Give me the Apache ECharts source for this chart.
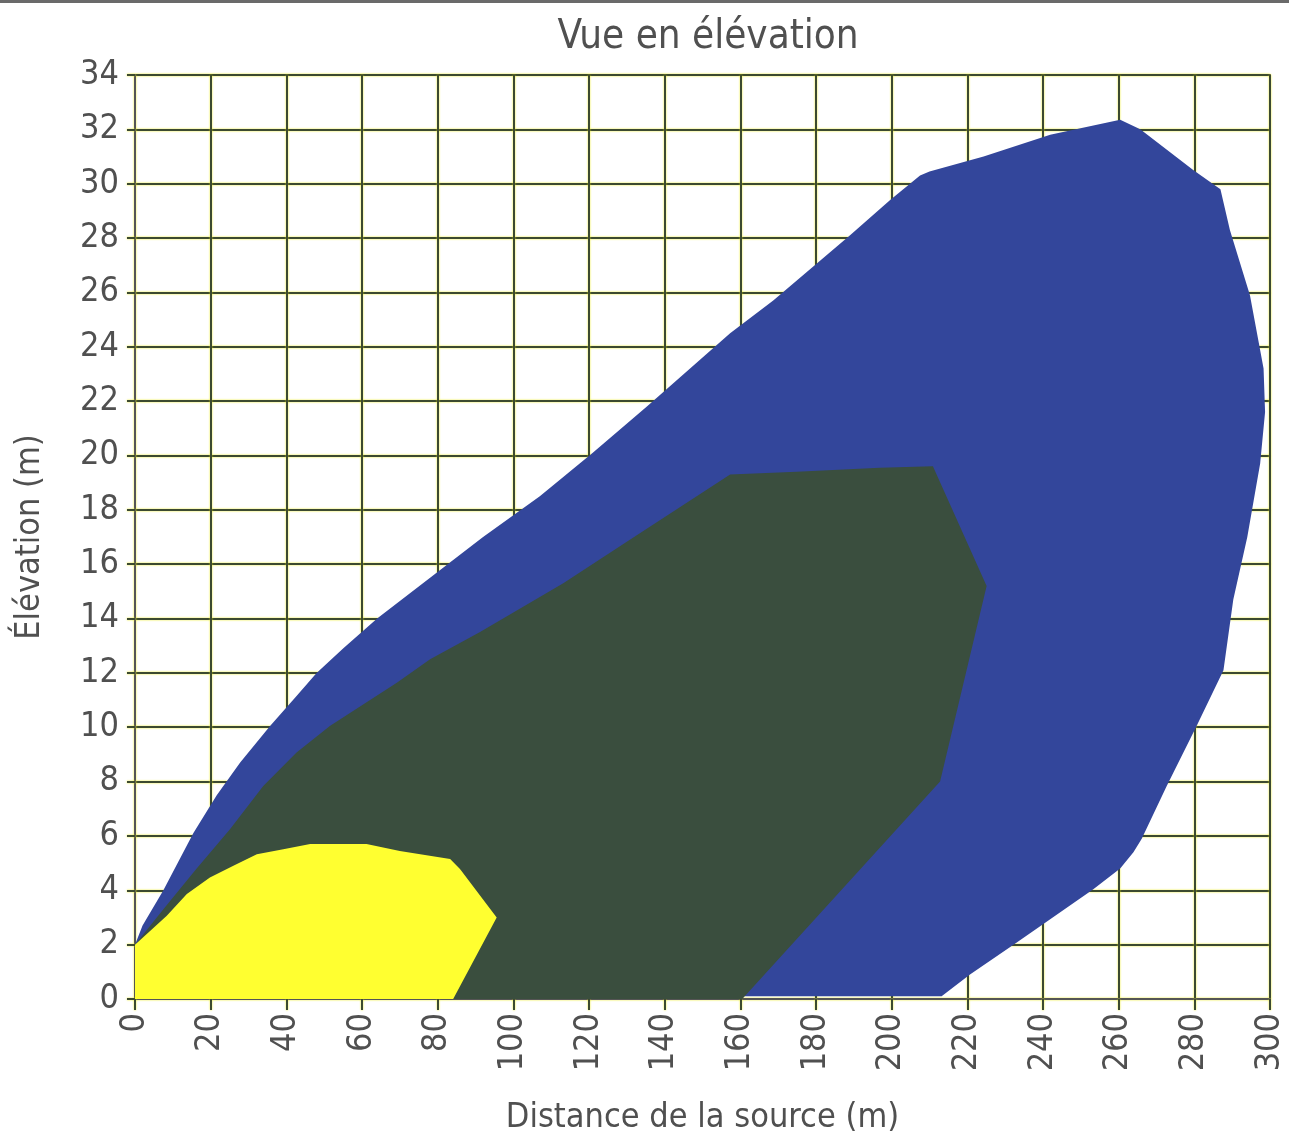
<!DOCTYPE html>
<html>
<head>
<meta charset="utf-8">
<script src="https://cdn.jsdelivr.net/npm/echarts@6/dist/echarts.min.js"></script>
<style>
html,body{margin:0;padding:0;background:#fff;}
#main{width:1289px;height:1140px;}
</style>
</head>
<body>
<div id="main"></div>
<script>
// zones du nuage, contours (distance m, elevation m)
var zoneBleue = [
	[0,2],[2,2.7],[7.5,4.0],[15.4,6.1],[21.6,7.5],[27.8,8.7],[35.7,10.05],[42.7,11.15],
	[48,12.0],[55,12.9],[64,14.0],[78,15.5],[92,17.0],[107,18.5],[121,20.1],[135.3,21.8],[157.3,24.5],[168.7,25.7],
	[189,28.1],[199.6,29.4],[207.5,30.3],[210,30.45],[224.3,31.0],[241.9,31.8],[260.4,32.35],
	[265.7,32.0],[279.7,30.5],[286.9,29.8],[289.4,28.3],[294.7,25.9],[298.3,23.2],[298.7,21.6],
	[297.4,19.7],[294,17],[290.3,14.7],[287.7,12.1],[280.6,10.05],[272.7,7.84],[266.1,5.9],
	[263.9,5.4],[260.4,4.8],[253.3,4.04],[240.1,2.76],[232.2,2.0],[220.7,0.9],[213.2,0.1],
	[160,0.1],[0,0]
];
var zoneVerte = [
	[0,2],[7.5,3.3],[16.3,4.8],[25.1,6.25],[33.9,7.84],[42.7,9.07],[51.5,10.05],[69.2,11.64],
	[78,12.5],[91.2,13.5],[113.2,15.3],[130.8,16.9],[157.3,19.3],[174.9,19.4],[196.9,19.55],
	[210.9,19.6],[225.1,15.2],[212.8,8.0],[160.5,0],[0,0]
];
var zoneJaune = [
	[0,2],[8.4,3.06],[13.7,3.86],[19.8,4.47],[26,4.9],[32.2,5.33],[39.2,5.51],[46.3,5.7],
	[61.2,5.7],[70,5.45],[83.3,5.15],[85.9,4.78],[95.6,3.0],[84.1,0],[0,0]
];
var xTicks = [0,20,40,60,80,100,120,140,160,180,200,220,240,260,280,300];
var yTicks = [0,2,4,6,8,10,12,14,16,18,20,22,24,26,28,30,32,34];

var police = "'Liberation Sans Narrow','DejaVu Sans Condensed','Liberation Sans',sans-serif";
var grille = {color:'#3c4a30', width:2, shadowColor:'rgba(235,235,0,0.95)', shadowBlur:2};

function polygone(points, couleur){
	return {
		type:'custom',
		data:points,
		encode:{x:0, y:1},
		clip:true,
		silent:true,
		renderItem:function(params, api){
			if(params.dataIndex !== 0) return;
			var pts = [];
			for(var i=0;i<points.length;i++){
				pts.push(api.coord(points[i]));
			}
			return {type:'polygon', shape:{points:pts}, style:{fill:couleur}};
		}
	};
}

var myChart = echarts.init(document.getElementById("main"));
var option = {
	animation:false,
	backgroundColor:'#fff',
	title:{
		text:'Vue en élévation',
		left:703, top:13, textAlign:'center',
		textStyle:{fontFamily:police, fontSize:40, fontWeight:'normal', color:'#505050'}
	},
	graphic:[{type:'rect', left:0, top:0, shape:{width:1289, height:3}, style:{fill:'#6a6a6a'}}],
	grid:{left:135, right:19, top:75, bottom:140, show:true, borderColor:'#555', borderWidth:2, backgroundColor:'#fff'},
	xAxis:{
		type:'value', min:xTicks[0], max:xTicks[xTicks.length-1], interval:20,
		name:'Distance de la source (m)', nameLocation:'middle', nameGap:102,
		nameTextStyle:{fontFamily:police, fontSize:34, color:'#505050'},
		axisLine:{show:true, lineStyle:{color:'#555', width:2}},
		axisTick:{show:true, length:11, lineStyle:grille},
		axisLabel:{rotate:90, margin:14, fontFamily:police, fontSize:34, color:'#505050'},
		splitLine:{show:true, lineStyle:grille}
	},
	yAxis:{
		type:'value', min:yTicks[0], max:yTicks[yTicks.length-1], interval:2,
		name:'Élévation (m)', nameLocation:'middle', nameGap:88,
		nameTextStyle:{fontFamily:police, fontSize:34, color:'#505050'},
		axisLine:{show:true, lineStyle:{color:'#555', width:2}},
		axisTick:{show:true, length:8, lineStyle:grille},
		axisLabel:{margin:16, fontFamily:police, fontSize:34, color:'#505050'},
		splitLine:{show:true, lineStyle:grille}
	},
	series:[
		polygone(zoneBleue, '#33469b'),
		polygone(zoneVerte, '#3a4e3e'),
		polygone(zoneJaune, '#ffff30')
	]
};
myChart.setOption(option);
</script>
</body>
</html>
